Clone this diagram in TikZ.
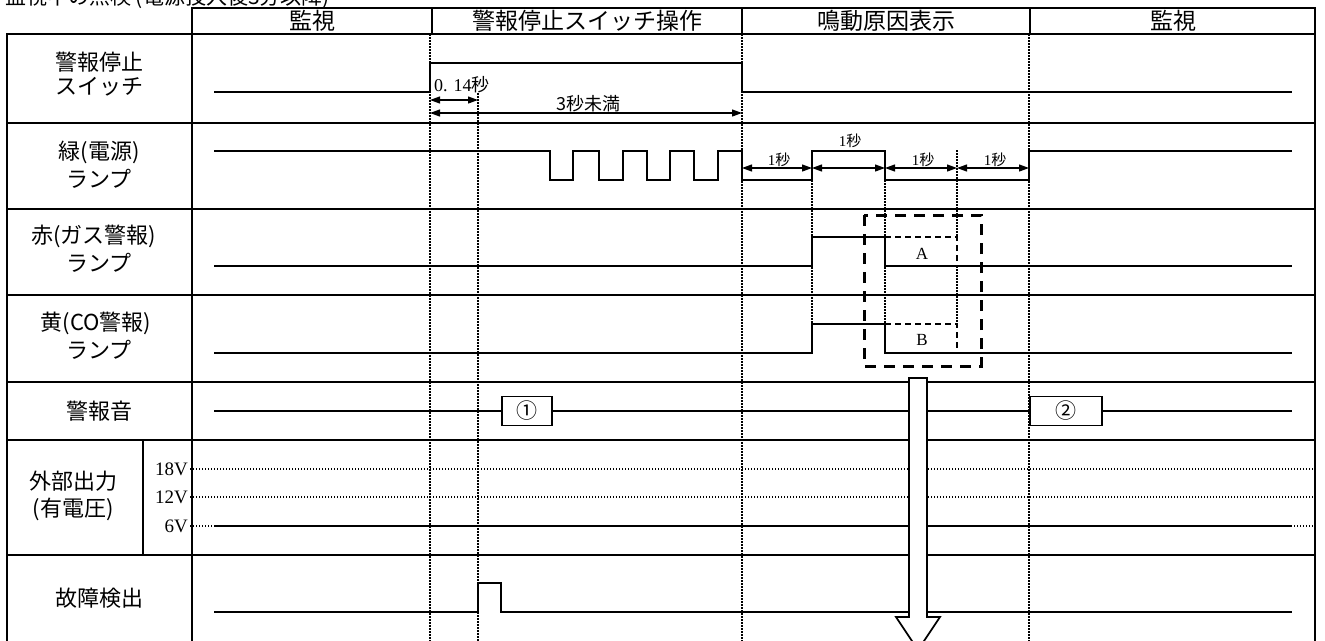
\documentclass[tikz,border=0pt]{standalone}
\usepackage{fontspec}
\setmainfont{Liberation Serif}
\newfontfamily\jp{Noto Sans CJK JP}
\usetikzlibrary{arrows.meta}
\begin{document}
\begin{tikzpicture}[x=1pt,y=-1pt,
  gridline/.style={line width=1.8pt},
  sig/.style={line width=1.7pt, line join=miter},
  vdot/.style={line width=1.6pt, dash pattern=on 1.5pt off 1.5pt},
  hdot/.style={line width=1.3pt, dash pattern=on 1.4pt off 1.6pt},
  abdash/.style={line width=1.5pt, dash pattern=on 6pt off 4pt},
  bigdash/.style={line width=3pt, dash pattern=on 11pt off 8pt},
  dimarrow/.style={line width=1.2pt, {Triangle[length=10pt,width=7pt]}-{Triangle[length=10pt,width=7pt]}},
  lbl/.style={font=\jp\fontsize{22}{24}\selectfont, inner sep=0pt},
  hdr/.style={font=\jp\fontsize{23}{24}\selectfont, inner sep=0pt},
  secl/.style={font=\fontsize{15}{16}\selectfont, inner sep=0pt},
  volt/.style={font=\fontsize{19}{20}\selectfont, inner sep=0pt, anchor=east},
  numbox/.style={draw, line width=1.7pt, fill=white, minimum width=50pt, minimum height=29pt, inner sep=0pt, font=\jp\fontsize{21}{22}\selectfont},
]
\useasboundingbox (0,0) rectangle (1325,640);
\clip (0,0) rectangle (1325,640);

% title (cut off at top, as in the reference)
\node[font=\jp\fontsize{21}{21}\selectfont, inner sep=0pt, anchor=base west] (title) at (5,4) {監視中の点検 (電源投入後3分以降)};

% header
\draw[line width=2.3pt] (192,8) rectangle (1315,34);
\foreach \x in {432,742,1030} \draw[line width=2.3pt] (\x,8) -- (\x,34);
\node[hdr] (h1) at (312,21) {監視};
\node[hdr] (h2) at (587,21) {警報停止スイッチ操作};
\node[hdr] (h3) at (886,21) {鳴動原因表示};
\node[hdr] (h4) at (1173,21) {監視};

% table grid
\draw[gridline] (7,34) rectangle (1315,660);
\draw[gridline] (192,34) -- (192,660);
\foreach \y in {123,209,295,382,440,555} \draw[gridline] (7,\y) -- (1315,\y);
\draw[gridline] (143,440) -- (143,555);

% row labels
\node[lbl] (l1a) at (99,62) {警報停止};
\node[lbl] (l1b) at (99,87) {スイッチ};
\node[lbl] (l2a) at (99,152) {緑(電源)};
\node[lbl] (l2b) at (99,179) {ランプ};
\node[lbl] (l3a) at (94,236) {赤(ガス警報)};
\node[lbl] (l3b) at (99,263) {ランプ};
\node[lbl] (l4a) at (96,323) {黄(CO警報)};
\node[lbl] (l4b) at (99,350) {ランプ};
\node[lbl] (l5) at (99,411) {警報音};
\node[lbl] (l6a) at (73,481) {外部出力};
\node[lbl] (l6b) at (73,509) {(有電圧)};
\node[lbl] (l7) at (99,598) {故障検出};
\node[volt] (v18) at (188,469) {18V};
\node[volt] (v12) at (188,497) {12V};
\node[volt] (v6) at (188,526) {6V};

% voltage level dotted lines
\foreach \y in {469,497,526} \draw[hdot] (190,\y) -- (1315,\y);

% dotted time marks
\draw[vdot] (430,34) -- (430,660);
\draw[vdot] (478,93) -- (478,660);
\draw[vdot] (742,34) -- (742,660);
\draw[vdot] (812,180) -- (812,324);
\draw[vdot] (885,180) -- (885,324);
\draw[vdot] (957,150) -- (957,237);
\draw[vdot] (957,266) -- (957,324);
\draw[vdot] (1029,34) -- (1029,660);

% signals
\draw[sig] (214,92) -- (430,92) -- (430,63) -- (742,63) -- (742,92) -- (1292,92);
\draw[sig] (214,151) -- (550,151) -- (550,180) -- (573,180) -- (573,151) -- (599,151) -- (599,180)
  -- (623,180) -- (623,151) -- (647,151) -- (647,180) -- (670,180) -- (670,151) -- (694,151)
  -- (694,180) -- (718,180) -- (718,151) -- (742,151) -- (742,180) -- (812,180) -- (812,151)
  -- (885,151) -- (885,180) -- (1029,180) -- (1029,151) -- (1292,151);
\draw[sig] (214,266) -- (812,266) -- (812,237) -- (885,237) -- (885,266) -- (1292,266);
\draw[sig] (214,353) -- (812,353) -- (812,324) -- (885,324) -- (885,353) -- (1292,353);
\draw[sig] (214,526) -- (1292,526);
\draw[sig] (214,612) -- (478,612) -- (478,583) -- (501,583) -- (501,612) -- (1292,612);

% alarm sound row with numbered boxes
\node[numbox, anchor=west] (n1) at (501,411) {①};
\node[numbox, anchor=west, minimum width=72pt] (n2) at (1029,411) {②};
\coordinate (s5a) at (214,411);
\coordinate (s5b) at (1292,411);
\draw[sig] (s5a) -- (n1.west);
\draw[sig] (n1.east) -- (n2.west);
\draw[sig] (n2.east) -- (s5b);

% dimension arrows
\coordinate (d1a) at (430,100); \coordinate (d1b) at (478,100);
\coordinate (d2a) at (430,113); \coordinate (d2b) at (742,113);
\draw[dimarrow] (d1a) -- (d1b);
\draw[dimarrow] (d2a) -- (d2b);
\node[inner sep=0pt, anchor=west, font=\fontsize{18}{18}\selectfont] (t014) at (434,85) {0. 14{\jp 秒}};
\node[inner sep=0pt, font=\jp\fontsize{18}{18}\selectfont] (t3s) at (588,104) {3秒未満};

\coordinate (g1) at (742,168); \coordinate (g2) at (812,168); \coordinate (g3) at (885,168);
\coordinate (g4) at (957,168); \coordinate (g5) at (1029,168);
\draw[dimarrow] (g1) -- (g2);
\draw[dimarrow] (g2) -- (g3);
\draw[dimarrow] (g3) -- (g4);
\draw[dimarrow] (g4) -- (g5);
\node[secl] (s1) at (779,160) {1{\jp 秒}};
\node[secl] (s2) at (850,141) {1{\jp 秒}};
\node[secl] (s3) at (923,160) {1{\jp 秒}};
\node[secl] (s4) at (995,160) {1{\jp 秒}};

% A / B dashed extensions
\draw[abdash] (885,237) -- (957,237) -- (957,266);
\draw[abdash] (885,324) -- (957,324) -- (957,353);
\node[font=\fontsize{17}{17}\selectfont, inner sep=0pt] (la) at (922,254) {A};
\node[font=\fontsize{17}{17}\selectfont, inner sep=0pt] (lb) at (922,340) {B};

% big dashed frame
\draw[bigdash] (864,215) rectangle (981,366);

% big hollow arrow
\draw[line width=1.7pt, fill=white, line join=miter] (909,378) -- (927,378) -- (927,617) -- (940,617)
  -- (918,650) -- (896,617) -- (909,617) -- cycle;
\end{tikzpicture}
\end{document}
